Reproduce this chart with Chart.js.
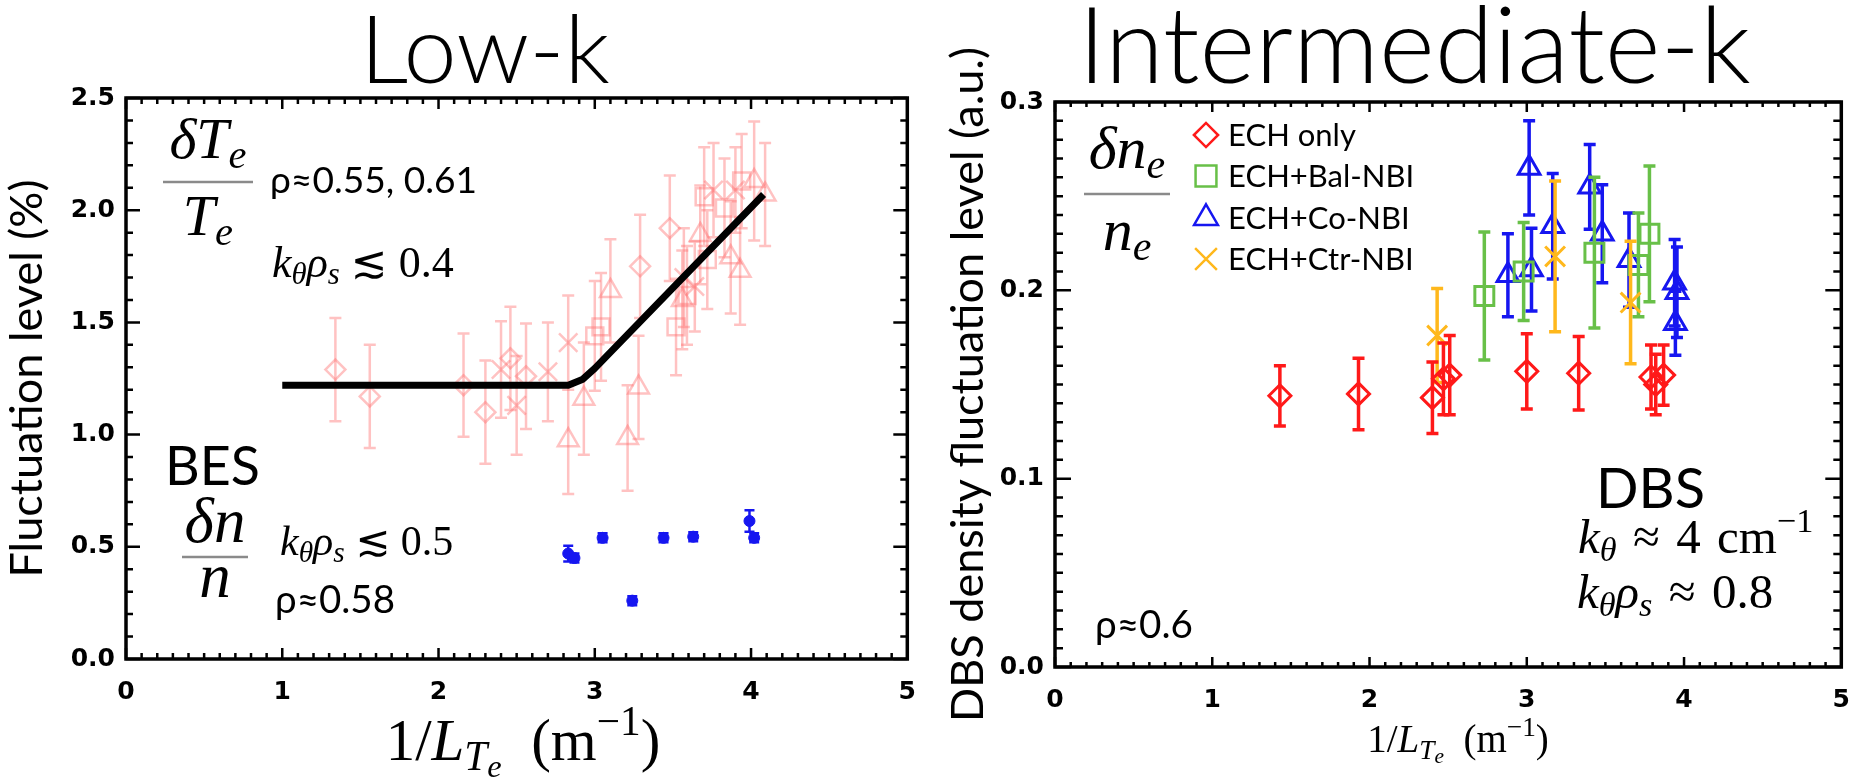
<!DOCTYPE html>
<html>
<head>
<meta charset="utf-8">
<script src="https://cdn.jsdelivr.net/npm/chart.js@4.4.0/dist/chart.umd.min.js"></script>
<style>
  html, body { margin: 0; padding: 0; background: #fff; }
  #wrap { position: relative; width: 1868px; height: 778px; overflow: hidden; }
  .panel { position: absolute; top: 0; width: 934px; height: 778px; }
</style>
</head>
<body>
<div id="wrap">
  <div class="panel" style="left:0"><canvas id="lowk"></canvas></div>
  <div class="panel" style="left:934px"><canvas id="intk"></canvas></div>
</div>
<script>
// ---- Low-k panel (BES) ----
// delta Te / Te, four marker types
const teDiamondX = [1.34, 1.56, 2.16, 2.30, 2.46, 2.56, 3.29, 3.48];
const teDiamondY = [1.29, 1.17, 1.22, 1.10, 1.34, 1.26, 1.75, 1.92];
const teDiamondErr = [0.23, 0.23, 0.23, 0.23, 0.23, 0.235, 0.23, 0.235];

const teCrossX = [2.40, 2.50, 2.70, 2.83, 3.57, 3.64, 3.76, 3.90];
const teCrossY = [1.29, 1.13, 1.28, 1.41, 1.70, 1.66, 2.09, 2.09];
const teCrossErr = [0.215, 0.22, 0.22, 0.21, 0.22, 0.20, 0.21, 0.19];

const teSquareX = [3.00, 3.04, 3.52, 3.59, 3.72, 3.70, 3.83, 3.94];
const teSquareY = [1.44, 1.48, 1.48, 1.62, 1.78, 2.06, 2.01, 2.13];
const teSquareErr = [0.245, 0.24, 0.215, 0.22, 0.22, 0.22, 0.22, 0.21];

const teTriX = [2.83, 2.93, 3.10, 3.21, 3.28, 3.56, 3.675, 3.87, 3.93, 4.02, 4.09];
const teTriY = [0.975, 1.16, 1.64, 0.985, 1.21, 1.60, 1.89, 1.79, 1.73, 2.13, 2.07];
const teTriErr = [0.24, 0.25, 0.23, 0.235, 0.23, 0.22, 0.22, 0.25, 0.24, 0.265, 0.23];

// delta n / n from BES
const besX = [2.83, 2.87, 3.05, 3.24, 3.44, 3.63, 3.99, 4.02];
const besY = [0.47, 0.45, 0.54, 0.26, 0.54, 0.545, 0.615, 0.54];
const besErr = [0.035, 0.02, 0.02, 0.02, 0.02, 0.02, 0.048, 0.02];

// fitted trend line
const fitX = [1.0, 2.83, 2.92, 3.0, 4.08];
const fitY = [1.22, 1.22, 1.245, 1.295, 2.07];

// ---- Intermediate-k panel (DBS) ----
const echX = [1.43, 1.93, 2.40, 2.47, 2.51, 3.00, 3.33, 3.79, 3.82, 3.87];
const echY = [0.144, 0.145, 0.143, 0.153, 0.155, 0.157, 0.156, 0.154, 0.150, 0.155];
const echErr = [0.016, 0.019, 0.019, 0.019, 0.021, 0.020, 0.0195, 0.017, 0.016, 0.016];

const balX = [2.73, 2.98, 3.43, 3.71, 3.78];
const balY = [0.197, 0.210, 0.220, 0.2135, 0.230];
const balErr = [0.034, 0.026, 0.040, 0.0275, 0.036];

const coX = [2.88, 3.015, 3.03, 3.165, 3.40, 3.48, 3.65, 3.94, 3.955, 3.945];
const coY = [0.208, 0.265, 0.211, 0.234, 0.255, 0.230, 0.216, 0.204, 0.199, 0.1825];
const coErr = [0.022, 0.025, 0.022, 0.028, 0.0225, 0.026, 0.025, 0.023, 0.024, 0.017];

const ctrX = [2.43, 3.18, 3.66];
const ctrY = [0.176, 0.218, 0.1935];
const ctrErr = [0.025, 0.040, 0.0325];

const xTicks = [0, 1, 2, 3, 4, 5];

const SANS = 'Lato, "Open Sans", "DejaVu Sans", sans-serif';
const SERIF = '"Liberation Serif", "DejaVu Serif", "DejaVu Sans", serif';
const PINK = 'rgba(255, 110, 110, 0.42)';
const BLUE = 'rgb(22, 22, 240)';

const pts = (xs, ys) => xs.map((x, i) => ({x, y: ys[i]}));

// rich text: segments of {t, f: 'i'|'r'|'s'|'t', l: 0 normal, 1 sub, 2 subsub, -1 sup}
const it = (t, l = 0) => ({t, f: 'i', l});
const rm = (t, l = 0) => ({t, f: 'r', l});
const sf = (t, l = 0) => ({t, f: 's', l});
const hd = (t) => ({t, f: 't', l: 0});
const LV_SCALE = {'0': 1, '1': 0.7, '2': 0.55, '-1': 0.7};
const LV_DY = {'0': 0, '1': 0.17, '2': 0.28, '-1': -0.42};

function segFont(sg, size) {
  const s = size * LV_SCALE[sg.l];
  if (sg.f === 'i') return `italic ${s}px ${SERIF}`;
  if (sg.f === 'r') return `${s}px ${SERIF}`;
  if (sg.f === 't') return `300 ${s}px ${SANS}`;
  return `${s}px ${SANS}`;
}
function richWidth(ctx, segs, size) {
  let w = 0;
  for (const sg of segs) { ctx.font = segFont(sg, size); w += ctx.measureText(sg.t).width; }
  return w;
}
function drawRich(ctx, segs, x, y, size, w, align) {
  if (w) size = size * w / richWidth(ctx, segs, size);
  let cx = x;
  if (align === 'center') cx = x - richWidth(ctx, segs, size) / 2;
  ctx.textAlign = 'left';
  ctx.textBaseline = 'alphabetic';
  for (const sg of segs) {
    ctx.font = segFont(sg, size);
    ctx.fillText(sg.t, cx, y + LV_DY[sg.l] * size);
    cx += ctx.measureText(sg.t).width;
  }
}

const errorBars = {
  id: 'errorBars',
  beforeDatasetDraw(chart, args) {
    const ds = chart.data.datasets[args.index];
    if (!ds.errors) return;
    const {ctx} = chart;
    const y = chart.scales.y;
    ctx.save();
    ctx.strokeStyle = ds.borderColor;
    ctx.lineWidth = ds.errorBar.width;
    const cap = ds.errorBar.cap;
    args.meta.data.forEach((pt, i) => {
      const v = ds.data[i].y, e = ds.errors[i];
      const top = y.getPixelForValue(v + e), bot = y.getPixelForValue(v - e);
      ctx.beginPath();
      ctx.moveTo(pt.x, top); ctx.lineTo(pt.x, bot);
      ctx.moveTo(pt.x - cap, top); ctx.lineTo(pt.x + cap, top);
      ctx.moveTo(pt.x - cap, bot); ctx.lineTo(pt.x + cap, bot);
      ctx.stroke();
    });
    ctx.restore();
  }
};

// box around the plot with inward ticks on all four sides
const frameTicks = {
  id: 'frameTicks',
  afterDatasetsDraw(chart, args, o) {
    const {ctx, chartArea: a, scales: {x, y}} = chart;
    ctx.save();
    ctx.strokeStyle = '#000';
    ctx.lineWidth = o.tickWidth;
    ctx.beginPath();
    const nx = Math.round((x.max - x.min) / o.xMinor);
    for (let i = 0; i <= nx; i++) {
      const v = x.min + i * o.xMinor;
      const major = Math.abs(v / o.xMajor - Math.round(v / o.xMajor)) < 1e-6;
      const len = major ? o.xMajorLen : o.xMinorLen;
      const px = x.getPixelForValue(v);
      ctx.moveTo(px, a.bottom); ctx.lineTo(px, a.bottom - len);
      ctx.moveTo(px, a.top); ctx.lineTo(px, a.top + len);
    }
    const ny = Math.round((y.max - y.min) / o.yMinor);
    for (let i = 0; i <= ny; i++) {
      const v = y.min + i * o.yMinor;
      const major = Math.abs(v / o.yMajor - Math.round(v / o.yMajor)) < 1e-6;
      const len = major ? o.yMajorLen : o.yMinorLen;
      const py = y.getPixelForValue(v);
      ctx.moveTo(a.left, py); ctx.lineTo(a.left + len, py);
      ctx.moveTo(a.right, py); ctx.lineTo(a.right - len, py);
    }
    ctx.stroke();
    ctx.lineWidth = o.frameWidth;
    ctx.strokeRect(a.left, a.top, a.width, a.height);
    ctx.restore();
  }
};

const notes = {
  id: 'notes',
  afterDraw(chart, args, o) {
    const {ctx} = chart;
    ctx.save();
    ctx.fillStyle = '#000';
    (o.texts || []).forEach(n => drawRich(ctx, n.segs, n.x, n.y, n.size || 40, n.w, n.align));
    (o.fracs || []).forEach(f => {
      drawRich(ctx, f.num, f.cx, f.numY, f.size, null, 'center');
      drawRich(ctx, f.den, f.cx, f.denY, f.size, null, 'center');
      ctx.strokeStyle = '#8a8a8a';
      ctx.lineWidth = 2.5;
      ctx.beginPath();
      ctx.moveTo(f.cx - f.half, f.bar); ctx.lineTo(f.cx + f.half, f.bar);
      ctx.stroke();
    });
    if (o.legend) {
      const L = o.legend;
      chart.data.datasets.forEach((ds, i) => {
        const yRow = L.rows[i];
        ctx.strokeStyle = ds.borderColor;
        ctx.fillStyle = 'rgba(0,0,0,0)';
        Chart.helpers.drawPoint(ctx, {
          pointStyle: ds.pointStyle, radius: ds.pointRadius * 1.1,
          rotation: 0, borderWidth: ds.pointBorderWidth
        }, L.x, yRow);
        ctx.fillStyle = '#000';
        ctx.font = `${L.size}px ${SANS}`;
        ctx.textAlign = 'left';
        ctx.textBaseline = 'middle';
        ctx.fillText(ds.label, L.textX, yRow + 1);
      });
    }
    ctx.restore();
  }
};

Chart.register(errorBars, frameTicks, notes);

function pinkSet(label, xs, ys, errs, style, radius) {
  return {
    label, data: pts(xs, ys), errors: errs, errorBar: {width: 2.5, cap: 6},
    pointStyle: style, pointRadius: radius, pointBorderWidth: 2.5,
    borderColor: PINK, backgroundColor: 'rgba(0,0,0,0)', order: 4
  };
}
function dbsSet(label, xs, ys, errs, color, style, radius, order) {
  return {
    label, data: pts(xs, ys), errors: errs, errorBar: {width: 3.5, cap: 6},
    pointStyle: style, pointRadius: radius, pointBorderWidth: 3,
    borderColor: color, backgroundColor: 'rgba(0,0,0,0)', order
  };
}

function axes(yMax, yStep, yTitle, yWidth, xHeight, yTitlePad) {
  const tickFont = {family: '"DejaVu Sans", sans-serif', size: 25, weight: 'bold'};
  return {
    x: {
      type: 'linear', min: 0, max: 5,
      afterBuildTicks: s => { s.ticks = xTicks.map(v => ({value: v})); },
      afterFit: s => { s.height = xHeight; },
      grid: {display: false, drawTicks: false},
      border: {display: false},
      ticks: {color: '#000', font: tickFont, padding: 18, callback: v => String(v)}
    },
    y: {
      type: 'linear', min: 0, max: yMax,
      ticks: {stepSize: yStep, color: '#000', font: tickFont, padding: 11, callback: v => v.toFixed(1)},
      afterFit: s => { s.width = yWidth; },
      grid: {display: false, drawTicks: false},
      border: {display: false},
      title: {display: true, text: yTitle, color: '#000', padding: {top: yTitlePad, bottom: 0},
        font: {family: SANS, size: 45, lineHeight: 1.1}}
    }
  };
}

const base = {
  responsive: true, maintainAspectRatio: false, animation: false, events: []
};

new Chart(document.getElementById('lowk'), {
  type: 'scatter',
  data: {
    datasets: [
      pinkSet('dTe/Te diamond', teDiamondX, teDiamondY, teDiamondErr, 'rectRot', 10),
      pinkSet('dTe/Te cross', teCrossX, teCrossY, teCrossErr, 'crossRot', 13),
      pinkSet('dTe/Te square', teSquareX, teSquareY, teSquareErr, 'rect', 12),
      pinkSet('dTe/Te triangle', teTriX, teTriY, teTriErr, 'triangle', 12),
      {label: 'fit', data: pts(fitX, fitY), showLine: true, borderColor: '#000', borderWidth: 7,
        pointRadius: 0, tension: 0, borderJoinStyle: 'round', order: 2},
      {label: 'BES dn/n', data: pts(besX, besY), errors: besErr, errorBar: {width: 2.5, cap: 5},
        pointStyle: 'circle', pointRadius: 5.5, pointBorderWidth: 1,
        borderColor: BLUE, backgroundColor: BLUE, order: 1}
    ]
  },
  options: {
    ...base,
    layout: {padding: {top: 98, right: 18, left: 0, bottom: 0}},
    scales: axes(2.5, 0.5, 'Fluctuation level (%)', 126, 119, 3),
    plugins: {
      legend: {display: false}, tooltip: {enabled: false},
      frameTicks: {xMajor: 1, xMinor: 0.1, yMajor: 0.5, yMinor: 0.1,
        xMajorLen: 11, xMinorLen: 6, yMajorLen: 14, yMinorLen: 7, tickWidth: 2.5, frameWidth: 3.5},
      notes: {
        texts: [
          {segs: [hd('Low-k')], x: 360, y: 83, w: 250},
          {segs: [sf('ρ≈0.55, 0.61')], x: 270, y: 193, w: 207},
          {segs: [it('k'), it('θ', 1), it('ρ'), it('s', 1), rm(' ≲ 0.4')], x: 272, y: 277, size: 44},
          {segs: [sf('BES')], x: 165, y: 485, w: 95},
          {segs: [it('k'), it('θ', 1), it('ρ'), it('s', 1), rm(' ≲ 0.5')], x: 280, y: 555, size: 42},
          {segs: [sf('ρ≈0.58')], x: 275, y: 613, w: 120},
          {segs: [rm('1/'), it('L'), it('T', 1), it('e', 2), rm('\u2002(m'), rm('−1', -1), rm(')')],
            x: 523, y: 760, size: 59, align: 'center'}
        ],
        fracs: [
          {num: [it('δ'), it('T'), it('e', 1)], den: [it('T'), it('e', 1)],
            cx: 208, bar: 182, half: 45, numY: 158, denY: 235, size: 58},
          {num: [it('δ'), it('n')], den: [it('n')],
            cx: 215, bar: 557, half: 33, numY: 542, denY: 597, size: 63}
        ]
      }
    }
  }
});

new Chart(document.getElementById('intk'), {
  type: 'scatter',
  data: {
    datasets: [
      dbsSet('ECH only', echX, echY, echErr, 'rgb(255, 25, 25)', 'rectRot', 11, 1),
      dbsSet('ECH+Bal-NBI', balX, balY, balErr, 'rgb(104, 192, 72)', 'rect', 13.4, 3),
      dbsSet('ECH+Co-NBI', coX, coY, coErr, BLUE, 'triangle', 12.5, 4),
      dbsSet('ECH+Ctr-NBI', ctrX, ctrY, ctrErr, 'rgb(255, 184, 28)', 'crossRot', 14, 2)
    ]
  },
  options: {
    ...base,
    layout: {padding: {top: 102, right: 13, left: 0, bottom: 0}},
    scales: axes(0.3, 0.1, 'DBS density fluctuation level (a.u.)', 121, 111, 10),
    plugins: {
      legend: {display: false}, tooltip: {enabled: false},
      frameTicks: {xMajor: 1, xMinor: 0.1, yMajor: 0.1, yMinor: 0.01,
        xMajorLen: 10, xMinorLen: 5, yMajorLen: 16, yMinorLen: 8, tickWidth: 2.5, frameWidth: 3.5},
      notes: {
        texts: [
          {segs: [hd('Intermediate-k')], x: 144, y: 83, w: 673},
          {segs: [sf('ρ≈0.6')], x: 161, y: 638, w: 98},
          {segs: [sf('DBS')], x: 662, y: 508, w: 109},
          {segs: [it('k'), it('θ', 1), rm('\u2004≈\u20044\u2004cm'), rm('−1', -1)], x: 644, y: 553, size: 49},
          {segs: [it('k'), it('θ', 1), it('ρ'), it('s', 1), rm('\u2004≈\u20040.8')], x: 643, y: 608, size: 49},
          {segs: [rm('1/'), it('L'), it('T', 1), it('e', 2), rm('\u2002(m'), rm('−1', -1), rm(')')],
            x: 524, y: 752, size: 39, align: 'center'}
        ],
        fracs: [
          {num: [it('δ'), it('n'), it('e', 1)], den: [it('n'), it('e', 1)],
            cx: 193, bar: 194, half: 43, numY: 168, denY: 250, size: 60}
        ],
        legend: {x: 272, textX: 294, rows: [135, 176, 218, 259], size: 31}
      }
    }
  }
});
</script>
</body>
</html>
